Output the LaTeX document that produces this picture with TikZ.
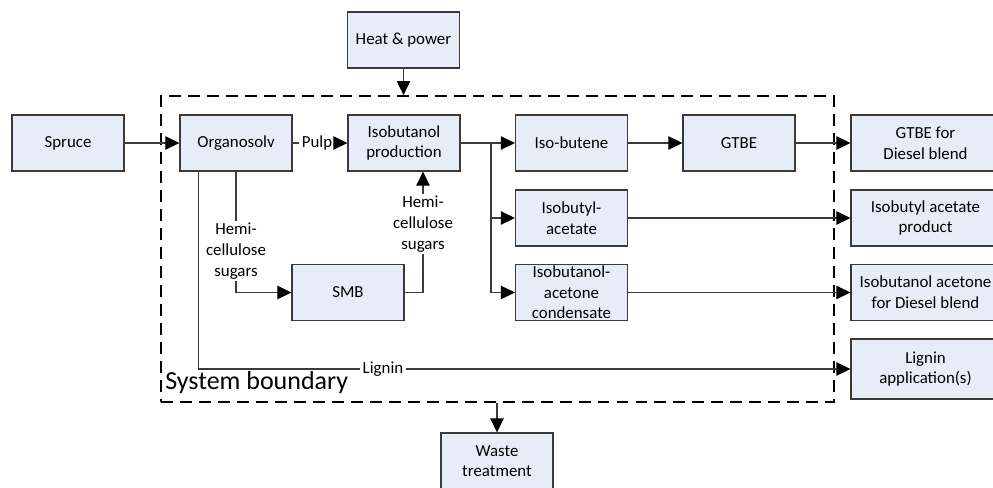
\documentclass[tikz,border=0pt]{standalone}
\usepackage{fontspec}
\setmainfont{Carlito}
\usetikzlibrary{arrows.meta, calc}

\begin{document}
\begin{tikzpicture}[x=0.025cm, y=-0.025cm, font=\fontsize{12}{14.7}\selectfont]
	\def\boxw{2.8cm}
	\def\boxh{1.4cm}
	\def\widew{3.725cm}
	\definecolor{boxfill}{HTML}{E7EDF7}
	\definecolor{boxline}{HTML}{3A3A3A}
	\tikzset{
		block/.style={draw=boxline, fill=boxfill, line width=0.75pt, minimum width=\boxw, minimum height=\boxh, align=center, inner sep=1pt},
		wideblock/.style={block, minimum width=\widew},
		flow/.style={draw=boxline, line width=0.75pt, -{Triangle[length=10pt, width=9.5pt, color=black]}},
		link/.style={draw=boxline, line width=0.75pt},
		tag/.style={align=center, inner sep=1.5pt},
	}
	\clip (0,0) rectangle (993,487);

	\node[draw, line width=1.2pt, dash pattern=on 8.5pt off 5pt, minimum width=16.825cm, minimum height=7.65cm] (boundary) at (497.5,249) {};
	\node[anchor=base west, inner sep=0pt, font=\fontsize{18.5}{22}\selectfont] (sysname) at (165,389) {System boundary};

	\node[block] (heat) at (403.5,40) {Heat \& power};
	\node[block] (spruce) at (68,143) {Spruce};
	\node[block] (orga) at (236,143) {Organosolv};
	\node[block] (isobut) at (404,143) {Isobutanol\\production};
	\node[block] (isobutene) at (571.5,143) {Iso-butene};
	\node[block] (gtbe) at (739,143) {GTBE};
	\node[block] (acetate) at (571.5,218) {Isobutyl-\\acetate};
	\node[block] (condensate) at (571.5,292.5) {Isobutanol-\\acetone\\condensate};
	\node[block] (smb) at (348,292.5) {SMB};
	\node[block] (waste) at (497,461) {Waste\\treatment};

	\node[wideblock] (gtbediesel) at (925.5,143) {GTBE for\\Diesel blend};
	\node[wideblock] (acetateprod) at (925.5,218) {Isobutyl acetate\\product};
	\node[wideblock] (condensdiesel) at (925.5,292.5) {Isobutanol acetone\\for Diesel blend};
	\node[wideblock, minimum height=1.5cm] (ligapp) at (925.5,369) {Lignin\\application(s)};

	\node[tag] (pulp) at (317,143) {Pulp};
	\node[tag] (hemiA) at (236,251) {Hemi-\\cellulose\\sugars};
	\node[tag] (hemiB) at (423,224) {Hemi-\\cellulose\\sugars};
	\node[tag] (lignin) at (383,369) {Lignin};

	\coordinate (split) at (491,143);
	\coordinate (ligout) at ($(orga.south west)+(19,0)$);

	\draw[flow] (heat) -- (heat |- boundary.north);
	\draw[flow] (spruce) -- (orga);
	\draw[link] (orga) -- (pulp);
	\draw[flow] (pulp) -- (isobut);

	\draw[flow] (isobut) -- (split) -- (isobutene);
	\draw[flow] (isobut) -- (split) |- (acetate);
	\draw[flow] (isobut) -- (split) |- (condensate);

	\draw[flow] (isobutene) -- (gtbe);
	\draw[flow] (gtbe) -- (gtbediesel);
	\draw[flow] (acetate) -- (acetateprod);
	\draw[flow] (condensate) -- (condensdiesel);

	\draw[link] (orga) -- (hemiA);
	\draw[flow] (hemiA) |- (smb);
	\draw[link] (smb) -| (hemiB);
	\draw[flow] (hemiB) -- (hemiB |- isobut.south);

	\draw[link] (ligout) |- (lignin);
	\draw[flow] (lignin) -- (ligapp);

	\draw[flow] (waste |- boundary.south) -- (waste);
\end{tikzpicture}
\end{document}
